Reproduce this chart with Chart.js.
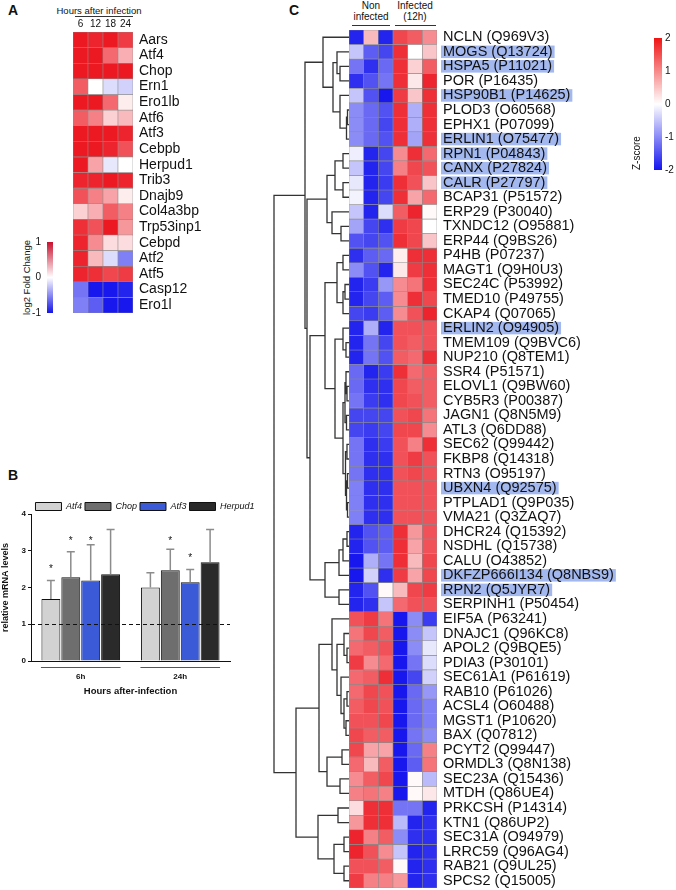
<!DOCTYPE html>
<html>
<head>
<meta charset="utf-8">
<script src="https://cdn.jsdelivr.net/npm/chart.js@4.4.1/dist/chart.umd.min.js"></script>
<style>
  body { margin: 0; background: #fff; font-family: 'Liberation Sans', Arial, sans-serif; color: #111; }
  #page { position: relative; width: 676px; height: 890px; overflow: hidden; background: #fff; }
  canvas { position: absolute; }
  .letter { position: absolute; font-weight: bold; font-size: 14px; line-height: 14px; }
  .head { position: absolute; width: 44px; text-align: center; font-size: 10px; line-height: 10.5px; }
  .rule { position: absolute; height: 0; border-top: 1px solid #333; }
  .note { position: absolute; font-size: 9.5px; line-height: 11px; white-space: nowrap; }
</style>
</head>
<body>
<div id="page">
  <div class="letter" style="left:8px;top:3px">A</div>
  <div class="letter" style="left:8px;top:468px">B</div>
  <div class="letter" style="left:289px;top:3px">C</div>

  <div class="note" style="left:56px;top:5px;width:86px;text-align:center">Hours after infection</div>
  <div class="rule" style="left:75px;top:16px;width:58px"></div>
  <div class="note" style="left:-14px;top:272px;width:80px;text-align:center;transform:rotate(-90deg)">log2 Fold Change</div>

  <div class="head" style="left:349px;top:1px">Non<br>infected</div>
  <div class="head" style="left:393px;top:1px">Infected<br>(12h)</div>
  <div class="rule" style="left:352px;top:25px;width:38px"></div>
  <div class="rule" style="left:395px;top:25px;width:41px"></div>

  <canvas id="heatA" width="142" height="335" style="left:73px;top:0px"></canvas>
  <canvas id="barA" width="42" height="110" style="left:18px;top:222px"></canvas>
  <canvas id="chartB" width="290" height="198" style="left:0px;top:499px"></canvas>
  <canvas id="dendroC" width="79" height="858" style="left:270px;top:30px"></canvas>
  <canvas id="heatC" width="290" height="910" style="left:349px;top:0px"></canvas>
  <canvas id="barC" width="76" height="190" style="left:600px;top:10px"></canvas>
</div>

<script>
// ---------- panel A: log2 fold change (columns = hours after infection) ----------
const hoursA = ['6', '12', '18', '24'];
const genesA = ['Aars', 'Atf4', 'Chop', 'Ern1', 'Ero1lb', 'Atf6', 'Atf3', 'Cebpb', 'Herpud1',
  'Trib3', 'Dnajb9', 'Col4a3bp', 'Trp53inp1', 'Cebpd', 'Atf2', 'Atf5', 'Casp12', 'Ero1l'];
const foldA = [
  [1.0, 0.95, 1.0, 0.85],
  [1.0, 1.0, 0.65, 0.35],
  [1.0, 1.0, 1.0, 1.0],
  [0.7, 0.0, -0.15, -0.2],
  [1.0, 1.0, 0.65, 0.08],
  [0.7, 0.55, 0.2, 0.3],
  [1.0, 1.0, 1.0, 0.95],
  [1.0, 1.0, 0.95, 0.75],
  [1.0, 0.4, -0.1, 0.0],
  [0.95, 0.95, 1.0, 0.95],
  [0.75, 0.55, 0.4, 0.08],
  [0.2, 0.35, 0.7, 0.55],
  [0.9, 0.75, 1.0, 0.45],
  [0.95, 0.5, 0.15, 0.15],
  [0.95, 0.3, -0.15, -0.55],
  [0.95, 0.9, 0.8, 0.85],
  [-0.6, -1.0, -1.0, -0.95],
  [-0.55, -0.7, -1.0, -1.0]
];

// ---------- panel B: relative mRNA levels ----------
const timepointsB = ['6h', '24h'];
const atf4Mean = [1.69, 2.0];
const atf4Err = [0.5, 0.4];
const atf4Star = [2.58, null];
const chopMean = [2.28, 2.47];
const chopErr = [0.69, 0.57];
const chopStar = [3.35, 3.35];
const atf3Mean = [2.19, 2.14];
const atf3Err = [0.97, 0.35];
const atf3Star = [3.35, 2.88];
const herpud1Mean = [2.36, 2.69];
const herpud1Err = [1.22, 0.89];
const herpud1Star = [null, null];
const baselineB = 1;

// ---------- panel C: z-scores (3 non infected, 3 infected 12h) ----------
const samplesC = ['NI-1', 'NI-2', 'NI-3', 'I12-1', 'I12-2', 'I12-3'];
const proteinsC = ['NCLN (Q969V3)', 'MOGS (Q13724)', 'HSPA5 (P11021)', 'POR (P16435)', 'HSP90B1 (P14625)',
  'PLOD3 (O60568)', 'EPHX1 (P07099)', 'ERLIN1 (O75477)', 'RPN1 (P04843)', 'CANX (P27824)', 'CALR (P27797)',
  'BCAP31 (P51572)', 'ERP29 (P30040)', 'TXNDC12 (O95881)', 'ERP44 (Q9BS26)', 'P4HB (P07237)',
  'MAGT1 (Q9H0U3)', 'SEC24C (P53992)', 'TMED10 (P49755)', 'CKAP4 (Q07065)', 'ERLIN2 (O94905)',
  'TMEM109 (Q9BVC6)', 'NUP210 (Q8TEM1)', 'SSR4 (P51571)', 'ELOVL1 (Q9BW60)', 'CYB5R3 (P00387)',
  'JAGN1 (Q8N5M9)', 'ATL3 (Q6DD88)', 'SEC62 (Q99442)', 'FKBP8 (Q14318)', 'RTN3 (O95197)',
  'UBXN4 (Q92575)', 'PTPLAD1 (Q9P035)', 'VMA21 (Q3ZAQ7)', 'DHCR24 (Q15392)', 'NSDHL (Q15738)',
  'CALU (O43852)', 'DKFZP666I134 (Q8NBS9)', 'RPN2 (Q5JYR7)', 'SERPINH1 (P50454)', 'EIF5A (P63241)',
  'DNAJC1 (Q96KC8)', 'APOL2 (Q9BQE5)', 'PDIA3 (P30101)', 'SEC61A1 (P61619)', 'RAB10 (P61026)',
  'ACSL4 (O60488)', 'MGST1 (P10620)', 'BAX (Q07812)', 'PCYT2 (Q99447)', 'ORMDL3 (Q8N138)',
  'SEC23A (Q15436)', 'MTDH (Q86UE4)', 'PRKCSH (P14314)', 'KTN1 (Q86UP2)', 'SEC31A (O94979)',
  'LRRC59 (Q96AG4)', 'RAB21 (Q9UL25)', 'SPCS2 (Q15005)'];
const highlightedC = [1, 2, 4, 7, 8, 9, 10, 20, 31, 37, 38];
const zscoreC = [
  [-1.9, 0.6, -1.9, 1.6, 1.4, 1.0],
  [-0.5, -1.4, -1.6, 1.8, 0.0, 0.5],
  [-1.2, -1.8, -1.3, 1.8, 0.4, 1.4],
  [-1.8, -1.5, -1.2, 1.8, 0.2, 1.9],
  [-0.5, -1.5, -2.0, 1.7, 0.5, 1.8],
  [-1.0, -1.3, -1.5, 1.8, -0.7, 1.8],
  [-1.0, -1.3, -1.6, 1.8, -0.7, 1.8],
  [-1.0, -1.3, -1.5, 1.8, -0.8, 1.8],
  [-0.15, -1.9, -1.6, 1.0, 1.8, 1.3],
  [-0.5, -1.9, -1.6, 1.1, 1.6, 1.5],
  [-0.2, -1.9, -1.7, 1.8, 1.5, 0.5],
  [-0.1, -1.9, -1.6, 1.8, 0.8, 1.3],
  [-0.5, -1.9, -0.3, 1.4, 1.9, 0.05],
  [-0.8, -1.6, -1.8, 1.7, 1.6, 0.0],
  [-1.5, -1.6, -1.5, 1.8, 1.6, 0.5],
  [-1.8, -1.4, -1.3, 0.15, 1.8, 1.8],
  [-1.0, -1.5, -1.9, 0.2, 1.7, 1.8],
  [-1.9, -1.7, -0.9, 1.0, 1.2, 1.8],
  [-1.9, -1.6, -1.4, 1.0, 1.8, 1.6],
  [-1.6, -1.7, -1.4, 1.0, 1.5, 1.9],
  [-1.9, -0.7, -1.9, 1.5, 1.5, 1.5],
  [-1.9, -1.2, -1.6, 1.5, 1.4, 1.5],
  [-1.9, -1.2, -1.5, 1.4, 1.3, 1.8],
  [-1.3, -1.9, -1.7, 1.8, 1.3, 1.4],
  [-1.3, -1.8, -1.8, 1.6, 1.4, 1.4],
  [-1.2, -1.7, -1.8, 1.6, 1.5, 1.4],
  [-1.6, -1.6, -1.6, 1.5, 1.6, 1.2],
  [-1.6, -1.7, -1.6, 1.6, 1.6, 1.0],
  [-1.2, -1.8, -1.7, 1.5, 1.1, 1.8],
  [-1.2, -1.8, -1.8, 1.5, 1.7, 1.5],
  [-1.2, -1.8, -1.8, 1.5, 1.6, 1.5],
  [-1.1, -1.8, -1.8, 1.5, 1.5, 1.5],
  [-1.1, -1.8, -1.8, 1.5, 1.5, 1.5],
  [-1.1, -1.8, -1.8, 1.5, 1.5, 1.5],
  [-1.9, -1.5, -1.4, 1.8, 0.9, 1.5],
  [-1.9, -1.5, -1.4, 1.8, 0.8, 1.5],
  [-2.0, -0.7, -1.2, 1.8, 0.6, 1.6],
  [-2.0, -0.4, -1.8, 1.7, 0.8, 1.6],
  [-1.9, -1.5, 0.05, 0.6, 1.6, 1.7],
  [-1.9, -1.8, -0.5, 1.3, 1.5, 1.5],
  [1.5, 1.7, 1.2, -2.0, -1.0, -1.7],
  [1.2, 1.6, 1.4, -2.0, -1.0, -0.5],
  [1.3, 1.4, 1.5, -2.0, -1.0, -0.2],
  [1.7, 1.0, 1.3, -2.0, -1.2, -0.3],
  [1.3, 1.4, 1.8, -2.0, -1.6, -0.4],
  [1.3, 1.6, 1.5, -2.0, -1.3, -0.9],
  [1.4, 1.6, 1.5, -2.0, -1.3, -1.1],
  [1.5, 1.5, 1.6, -2.0, -1.3, -1.1],
  [1.6, 1.4, 1.4, -2.0, -1.2, -1.0],
  [1.6, 0.8, 0.8, -2.0, -1.3, 1.1],
  [1.3, 0.6, 1.4, -2.0, -1.4, 1.2],
  [1.0, 1.4, 1.6, -2.0, 0.05, -0.6],
  [1.1, 1.2, 1.1, -2.0, 0.05, 0.2],
  [0.3, 1.8, 1.8, -1.2, -1.2, -1.9],
  [0.9, 1.8, 1.8, -0.6, -1.9, -1.8],
  [1.9, 1.1, 1.4, -1.0, -1.8, -1.8],
  [1.9, 1.5, 1.0, -0.5, -1.9, -1.8],
  [1.5, 1.5, 1.4, 0.05, -1.9, -1.8],
  [1.7, 1.1, 1.1, 0.9, -1.9, -1.8]
];

// row clustering: [left, right, height]; numbers are row indices
const clusterG1 = [0, [[1, [2, 3, 9], 12], [4, [[5, 6, 1.5], 7, 2.5], 9], 16], 26];
const clusterG2 = [[[8, 9, 6], [10, 11, 6], 14], [12, [13, 14, 8], 17], 22];
const clusterG3a = [[[15, 16, 6], [[17, 18, 4], 19, 6], 12],
  [[20, [21, 22, 3], 6], [[[23, [24, 25, 2], 3], [26, 27, 2.5], 4],
    [[28, 29, 2], [[30, 31, 1.5], [32, 33, 1.5], 2.5], 3.5], 6], 14], 24];
const clusterG3b = [[[[34, 35, 2], 36, 6], 37, 10], [38, 39, 10], 24];
const clusterL1 = [[40, [[41, [42, 43, 2], 5], [44, [[45, 46, 2], [47, 48, 3], 5], 8], 12], 17],
  [[49, 50, 7], [51, 52, 9], 22], 30];
const clusterL2 = [[53, 54, 11], [[55, 56, 5], [57, 58, 5], 15], 31];
const dendrogramC = [[clusterG1, [clusterG2, [clusterG3a, clusterG3b, 39], 42], 44],
  [clusterL1, clusterL2, 53], 75];

// ---------- helpers ----------
Chart.defaults.font.family = "'Liberation Sans', Arial, Helvetica, sans-serif";
Chart.defaults.color = '#111';
Chart.defaults.animation = false;
Chart.defaults.plugins.tooltip.enabled = false;

const WHITE = [255, 255, 255], RED = [236, 24, 34], BLUE = [24, 24, 238];
function mix(a, b, t) {
  return 'rgb(' + a.map((v, i) => Math.round(v + (b[i] - v) * t)).join(',') + ')';
}
function diverging(lim) {
  return v => mix(WHITE, v >= 0 ? RED : BLUE, Math.min(1, Math.abs(v) / lim));
}

function heatDatasets(matrix, colour) {
  return matrix.map((row, r) => ({
    data: row.map(() => [r - 0.5, r + 0.5]),
    backgroundColor: row.map(colour),
    borderColor: '#8a8a8a',
    borderWidth: 0.6,
    borderSkipped: false,
    grouped: false,
    barPercentage: 1,
    categoryPercentage: 1
  }));
}

const noGrid = { display: false, drawTicks: false };

function rowAxis(labels, width, fontSize, tickExtra) {
  return {
    position: 'right', reverse: true, min: -0.5, max: labels.length - 0.5,
    grid: noGrid, border: { display: false },
    afterBuildTicks: s => { s.ticks = labels.map((_, i) => ({ value: i })); },
    afterFit: s => { s.width = width; },
    ticks: Object.assign({ autoSkip: false, padding: 6, color: '#111',
      font: { size: fontSize, lineHeight: 1 }, callback: v => labels[v] }, tickExtra || {})
  };
}

function colourBar(id, min, max, stops, scales, padding) {
  return new Chart(document.getElementById(id), {
    type: 'bar',
    data: {
      labels: [''],
      datasets: [{
        data: [[min, max]],
        barPercentage: 1, categoryPercentage: 1, borderWidth: 0,
        backgroundColor: c => {
          const ch = c.chart;
          if (!ch.chartArea) return 'transparent';
          const y = ch.scales.y;
          const g = ch.ctx.createLinearGradient(0, y.getPixelForValue(max), 0, y.getPixelForValue(min));
          stops.forEach(s => g.addColorStop(s[0], s[1]));
          return g;
        }
      }]
    },
    options: {
      responsive: false,
      layout: { padding },
      plugins: { legend: { display: false } },
      scales: Object.assign({ x: { display: false } }, scales)
    }
  });
}

// ---------- panel A ----------
new Chart(document.getElementById('heatA'), {
  type: 'bar',
  data: { labels: hoursA, datasets: heatDatasets(foldA, diverging(1)) },
  options: {
    responsive: false,
    layout: { padding: { top: 0, bottom: 22, left: 0, right: 0 } },
    plugins: { legend: { display: false } },
    scales: {
      x: {
        position: 'top',
        grid: noGrid, border: { display: false },
        ticks: { padding: 2, maxRotation: 0, color: '#111', font: { size: 10 } },
        afterFit: s => { s.height = 32; }
      },
      y: rowAxis(genesA, 82, 14)
    }
  }
});

colourBar('barA', -1, 1, [[0, '#c8102e'], [0.5, '#ffffff'], [1, '#1414e6']], {
  y: {
    position: 'left', min: -1, max: 1,
    grid: noGrid, border: { display: false },
    ticks: { stepSize: 1, padding: 6, color: '#111', font: { size: 10 } },
    afterFit: s => { s.width = 29; }
  }
}, { top: 20, bottom: 19, left: 0, right: 7 });

// ---------- panel B ----------
const barExtras = {
  id: 'barExtras',
  afterDatasetsDraw(chart) {
    const { ctx, chartArea, scales: { x, y } } = chart;
    ctx.save();
    const yb = Math.round(y.getPixelForValue(baselineB)) + 0.5;
    ctx.setLineDash([4, 3]);
    ctx.strokeStyle = '#111';
    ctx.lineWidth = 1;
    ctx.beginPath();
    ctx.moveTo(chartArea.left, yb);
    ctx.lineTo(chartArea.right, yb);
    ctx.stroke();
    ctx.setLineDash([]);

    ctx.font = "10px 'Liberation Sans', Arial, sans-serif";
    ctx.textAlign = 'center';
    ctx.textBaseline = 'middle';
    ctx.fillStyle = '#111';
    chart.data.datasets.forEach((ds, i) => {
      chart.getDatasetMeta(i).data.forEach((bar, j) => {
        const top = y.getPixelForValue(ds.data[j] + ds.errors[j]);
        ctx.strokeStyle = '#8c8c8c';
        ctx.lineWidth = 1.5;
        ctx.beginPath();
        ctx.moveTo(bar.x, bar.y);
        ctx.lineTo(bar.x, top);
        ctx.moveTo(bar.x - 4, top);
        ctx.lineTo(bar.x + 4, top);
        ctx.stroke();
        if (ds.stars[j] != null) ctx.fillText('*', bar.x, y.getPixelForValue(ds.stars[j]) + 3);
      });
    });

    const half = x.width / x.ticks.length * 0.8 / 2;
    ctx.strokeStyle = '#555';
    ctx.lineWidth = 1;
    x.ticks.forEach((t, j) => {
      const cx = x.getPixelForValue(j);
      ctx.beginPath();
      ctx.moveTo(cx - half, chartArea.bottom + 6.5);
      ctx.lineTo(cx + half, chartArea.bottom + 6.5);
      ctx.stroke();
    });
    ctx.restore();
  }
};

function seriesB(label, mean, err, stars, colour) {
  return { label, data: mean, errors: err, stars, backgroundColor: colour,
    borderColor: '#111', borderWidth: 1, barPercentage: 0.95, categoryPercentage: 0.8 };
}

new Chart(document.getElementById('chartB'), {
  type: 'bar',
  data: {
    labels: timepointsB,
    datasets: [
      seriesB('Atf4', atf4Mean, atf4Err, atf4Star, '#d2d2d2'),
      seriesB('Chop', chopMean, chopErr, chopStar, '#6e6e6e'),
      seriesB('Atf3', atf3Mean, atf3Err, atf3Star, '#3a5ad8'),
      seriesB('Herpud1', herpud1Mean, herpud1Err, herpud1Star, '#2a2a2a')
    ]
  },
  options: {
    responsive: false,
    layout: { padding: 0 },
    plugins: {
      legend: {
        position: 'top', maxHeight: 15,
        labels: { boxWidth: 26, boxHeight: 8, padding: 3, color: '#111',
          font: { size: 9, style: 'italic' } }
      }
    },
    scales: {
      x: {
        grid: noGrid,
        border: { color: '#111', width: 1 },
        ticks: { padding: 11, color: '#111', font: { size: 8, weight: 'bold' } },
        title: { display: true, text: 'Hours after-infection', color: '#111',
          font: { size: 9.5, weight: 'bold' }, padding: 0 },
        afterFit: s => { s.height = 36; }
      },
      y: {
        min: 0, max: 4,
        grid: { drawOnChartArea: false, tickLength: 3, color: '#111' },
        border: { color: '#111', width: 1 },
        ticks: { stepSize: 1, padding: 2, color: '#111', font: { size: 8, weight: 'bold' } },
        title: { display: true, text: 'relative mRNA levels', color: '#111',
          font: { size: 9, weight: 'bold' }, padding: 0 },
        afterFit: s => { s.width = 31; }
      },
      yPad: {
        position: 'right',
        grid: noGrid, border: { display: false }, ticks: { display: false },
        afterFit: s => { s.width = 60; }
      }
    }
  },
  plugins: [barExtras]
});

// ---------- panel C ----------
function treeSegments(node, out) {
  if (typeof node === 'number') return { y: node, h: 0 };
  const a = treeSegments(node[0], out);
  const b = treeSegments(node[1], out);
  const h = node[2];
  out.push({ x: a.h, y: a.y }, { x: h, y: a.y }, { x: h, y: b.y }, { x: b.h, y: b.y }, { x: NaN, y: NaN });
  return { y: (a.y + b.y) / 2, h };
}
const dendroPoints = [];
treeSegments(dendrogramC, dendroPoints);

new Chart(document.getElementById('dendroC'), {
  type: 'scatter',
  data: {
    datasets: [{
      data: dendroPoints, showLine: true, spanGaps: false,
      borderColor: '#333', borderWidth: 1.3, pointRadius: 0, tension: 0
    }]
  },
  options: {
    responsive: false,
    layout: { padding: 0 },
    plugins: { legend: { display: false } },
    scales: {
      x: { type: 'linear', display: false, reverse: true, min: 0, max: 79 },
      y: { type: 'linear', display: false, reverse: true, min: -0.5, max: proteinsC.length - 0.5 }
    }
  }
});

new Chart(document.getElementById('heatC'), {
  type: 'bar',
  data: { labels: samplesC, datasets: heatDatasets(zscoreC, diverging(2)) },
  options: {
    responsive: false,
    layout: { padding: { top: 30, bottom: 22, left: 0, right: 0 } },
    plugins: { legend: { display: false } },
    scales: {
      x: { display: false },
      y: rowAxis(proteinsC, 202, 14.5, {
        showLabelBackdrop: c => highlightedC.includes(c.index),
        backdropColor: '#a3b8ef',
        backdropPadding: { top: -1, bottom: -1, left: 2, right: 2 }
      })
    }
  }
});

colourBar('barC', -2, 2, [[0, '#f01414'], [0.5, '#ffffff'], [1, '#1414f0']], {
  y: {
    position: 'right', min: -2, max: 2,
    grid: noGrid, border: { display: false },
    ticks: { stepSize: 1, padding: 3, color: '#111', font: { size: 10 } },
    afterFit: s => { s.width = 14; }
  },
  yTitle: {
    position: 'left', min: -2, max: 2,
    grid: noGrid, border: { display: false }, ticks: { display: false },
    title: { display: true, text: 'Z-score', align: 'start', color: '#111',
      font: { size: 10 }, padding: { top: 31, bottom: 0 } },
    afterFit: s => { s.width = 54; }
  }
}, { top: 28, bottom: 30, left: 0, right: 0 });
</script>
</body>
</html>
